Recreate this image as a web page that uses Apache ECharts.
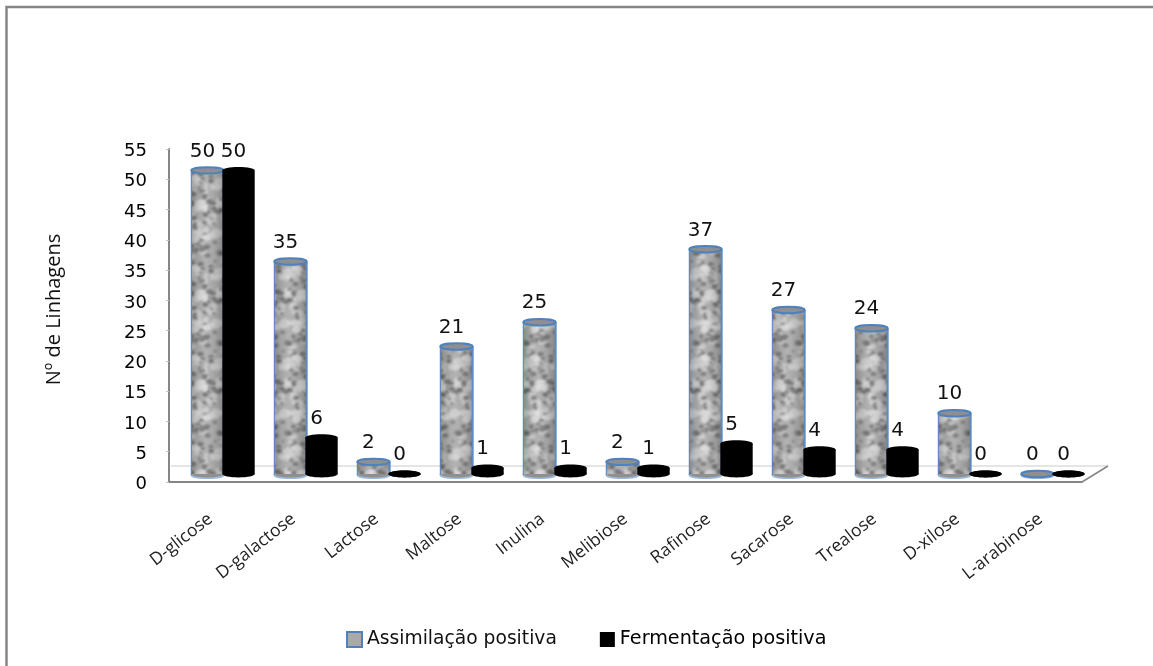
<!DOCTYPE html>
<html>
<head>
<meta charset="utf-8">
<style>html,body{margin:0;padding:0;background:#fff}#chart{width:1153px;height:666px}</style>
<script src="https://cdn.jsdelivr.net/npm/echarts@6/dist/echarts.min.js"></script>
</head>
<body>
<div id="chart"></div>
<script>
// Sugar assimilation and fermentation counts per carbon source
const categories = ['D-glicose','D-galactose','Lactose','Maltose','Inulina','Melibiose','Rafinose','Sacarose','Trealose','D-xilose','L-arabinose'];
const assimilacao = [50,35,2,21,25,2,37,27,24,10,0];
const fermentacao = [50,6,0,1,1,1,5,4,4,0,0];
const yTicks = [0,5,10,15,20,25,30,35,40,45,50,55];

const GRAY = '#868686', BLUE = '#4f81bd';

// Speckled granite tile for the assimilation cylinders (fixed hash, same on every draw)
function hash(a, b) {
  const s = Math.sin(a * 127.1 + b * 311.7) * 43758.5453;
  return s - Math.floor(s);
}
function graniteTile() {
  const c = document.createElement('canvas');
  const W = 34, H = 90;
  c.width = W; c.height = H;
  const g = c.getContext('2d');
  g.fillStyle = '#a6a6a6';
  g.fillRect(0, 0, W, H);
  g.filter = 'blur(1px)';
  for (let i = 0; i < 95; i++) {
    const x = hash(i, 1) * W, y = hash(i, 2) * H;
    const light = hash(i, 4) > 0.5;
    const r = light ? 2 + hash(i, 3) * 4 : 1.2 + hash(i, 3) * 2.2;
    g.fillStyle = light ? 'rgba(222,222,222,0.6)' : 'rgba(70,70,70,0.6)';
    // Each speck is repeated across the edges so the tile wraps without a seam
    for (const dx of [-W, 0, W]) {
      for (const dy of [-H, 0, H]) {
        g.beginPath();
        g.ellipse(x + dx, y + dy, r, r * (0.6 + hash(i, 5) * 0.4), 0, 0, Math.PI * 2);
        g.fill();
      }
    }
  }
  return c;
}
const tile = graniteTile();

function cylinder(kind) {
  return function (params, api) {
    const v = api.value(1);
    const base = api.coord([api.value(0), 0]);
    const top = api.coord([api.value(0), v]);
    const band = api.size([1, 0])[0];
    const rx = band * 0.195;
    const cx = base[0] + (kind === 'a' ? -1 : 1) * band * 0.187;
    const ry = kind === 'a' ? 3.2 : 3.4;
    const children = [];
    const body = { x: cx - rx, y: top[1], width: rx * 2, height: base[1] - top[1] };

    if (kind === 'a') {
      children.push({ type: 'ellipse', shape: { cx, cy: base[1] + 1, rx, ry },
        style: { fill: '#8f8f8f', stroke: '#9db8da', lineWidth: 1.5 } });
      children.push({ type: 'rect', shape: body, style: { fill: { image: tile, repeat: 'repeat' } } });
      children.push({ type: 'rect', shape: body, style: {
        fill: { type: 'linear', x: 0, y: 0, x2: 1, y2: 0, colorStops: [
          { offset: 0, color: 'rgba(50,50,50,0.25)' },
          { offset: 0.45, color: 'rgba(255,255,255,0.14)' },
          { offset: 1, color: 'rgba(50,50,50,0.3)' }] } } });
      children.push({ type: 'line', shape: { x1: cx - rx, y1: top[1], x2: cx - rx, y2: base[1] + 1 },
        style: { stroke: BLUE, lineWidth: 1 } });
      children.push({ type: 'line', shape: { x1: cx + rx, y1: top[1], x2: cx + rx, y2: base[1] + 1 },
        style: { stroke: '#5b8ac4', lineWidth: 2 } });
      children.push({ type: 'ellipse', shape: { cx, cy: top[1], rx, ry },
        style: { fill: '#8f8f8f', stroke: BLUE, lineWidth: 2 } });
    } else {
      children.push({ type: 'ellipse', shape: { cx, cy: base[1], rx, ry }, style: { fill: '#000' } });
      children.push({ type: 'rect', shape: body, style: { fill: '#000' } });
      children.push({ type: 'ellipse', shape: { cx, cy: top[1], rx, ry }, style: { fill: '#000' } });
    }
    children.push({ type: 'text', style: {
      text: String(v), x: cx - 5, y: top[1] - 19, align: 'center', verticalAlign: 'middle',
      fontFamily: 'DejaVu Sans', fontSize: 20, fill: '#111' } });
    return { type: 'group', children };
  };
}

const chart = echarts.init(document.getElementById('chart'));
chart.setOption({
  animation: false,
  backgroundColor: '#fff',
  grid: [
    { left: 169, top: 149, width: 913, height: 333 },
    { left: 181.5, top: 140, width: 913, height: 334 }
  ],
  xAxis: [
    { type: 'category', gridIndex: 0, data: categories,
      axisLine: { lineStyle: { color: GRAY, width: 2 } }, axisTick: { show: false },
      axisLabel: { rotate: 38, margin: 35, interval: 0, fontFamily: 'Open Sans', fontSize: 17.5, color: '#222' } },
    { type: 'category', gridIndex: 1, data: categories, show: false }
  ],
  yAxis: [
    { type: 'value', gridIndex: 0, min: 0, max: 55, interval: 5,
      name: 'Nº de Linhagens', nameLocation: 'middle', nameGap: 105, nameRotate: 90,
      nameTextStyle: { fontFamily: 'Open Sans', fontSize: 20, color: '#111', fontWeight: 500, padding: [0, 0, 0, 12] },
      axisLine: { show: true, lineStyle: { color: GRAY, width: 2 } },
      axisTick: { show: true, length: 3, lineStyle: { color: '#c4c4c4' } },
      splitLine: { show: false },
      axisLabel: { margin: 22, align: 'right',
        formatter: v => yTicks.includes(v) ? '{t|' + v + '}' : '',
        rich: { t: { padding: [5, 0, 0, 0], fontFamily: 'DejaVu Sans', fontSize: 18, color: '#000' } } } },
    { type: 'value', gridIndex: 1, min: 0, max: 55, show: false }
  ],
  legend: {
    left: 341, top: 625, itemWidth: 15, itemHeight: 15, itemGap: 43,
    textStyle: { fontFamily: 'DejaVu Sans', fontSize: 18.7, color: '#111' },
    data: [
      { name: 'Assimilação positiva', icon: 'rect',
        itemStyle: { color: '#a9a9a9', borderColor: BLUE, borderWidth: 2 } },
      { name: 'Fermentação positiva', icon: 'rect', itemStyle: { color: '#000' },
        textStyle: { fontFamily: 'DejaVu Sans', fontSize: 19.2, color: '#000' } }
    ]
  },
  graphic: [
    // Outer frame, open on the right and at the bottom
    { type: 'polyline', shape: { points: [[6.5, 666], [6.5, 7], [1153, 7]] },
      style: { stroke: GRAY, lineWidth: 2.5, fill: null } },
    // Chart floor drawn in perspective behind the cylinders
    { type: 'polyline', shape: { points: [[171, 466], [1108, 466]] },
      style: { stroke: '#dcdcdc', lineWidth: 1.5, fill: null } },
    { type: 'line', shape: { x1: 1108, y1: 466, x2: 1082, y2: 482 },
      style: { stroke: GRAY, lineWidth: 1.5 } }
  ],
  series: [
    { name: 'Assimilação positiva', type: 'custom', xAxisIndex: 1, yAxisIndex: 1,
      data: assimilacao.map((v, i) => [i, v]), encode: { x: 0, y: 1 },
      renderItem: cylinder('a'), itemStyle: { color: '#a9a9a9' }, clip: false },
    { name: 'Fermentação positiva', type: 'custom', xAxisIndex: 1, yAxisIndex: 1,
      data: fermentacao.map((v, i) => [i, v]), encode: { x: 0, y: 1 },
      renderItem: cylinder('f'), itemStyle: { color: '#000' }, clip: false }
  ]
});
</script>
</body>
</html>
